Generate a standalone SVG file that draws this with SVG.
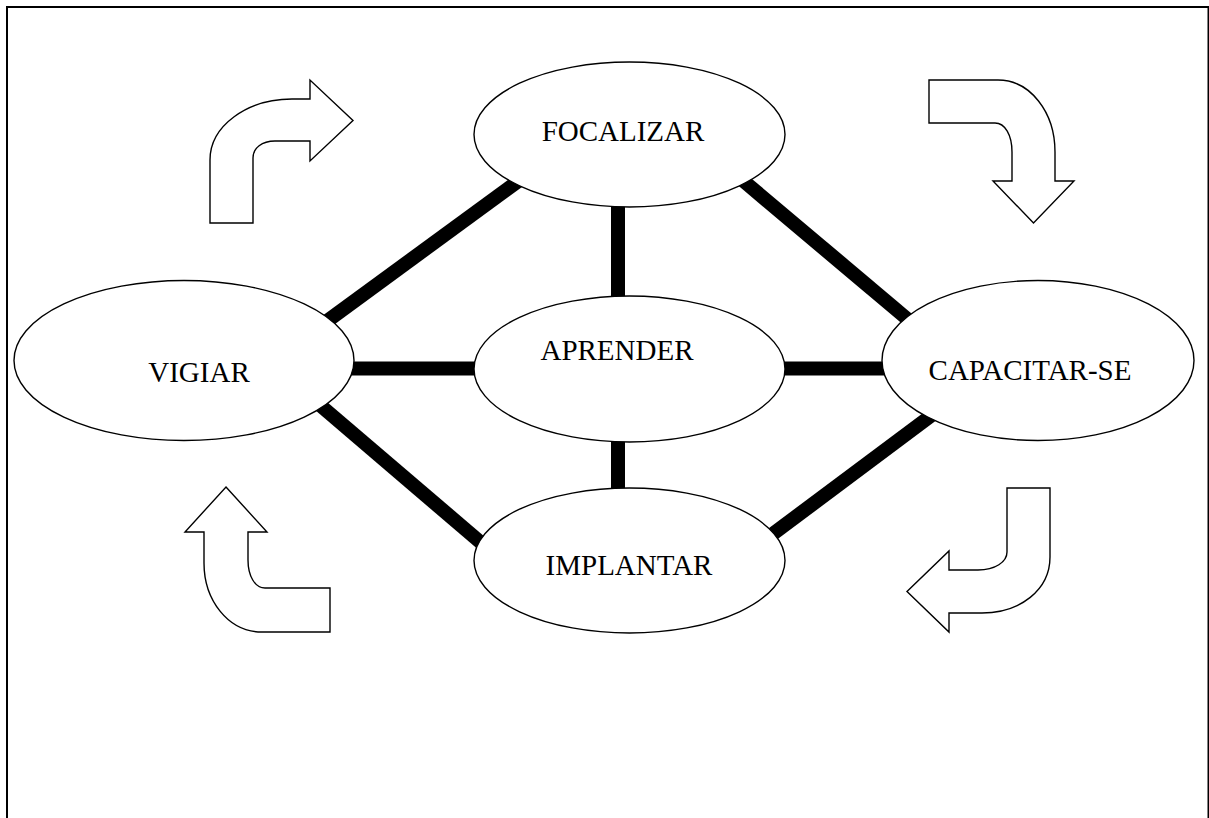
<svg xmlns="http://www.w3.org/2000/svg" width="1209" height="818" viewBox="0 0 1209 818">
  <style>
    .frame { fill: none; stroke: #000; stroke-width: 2; }
    .node { fill: #fff; stroke: #000; stroke-width: 1.4; }
    .label { font-family: "Liberation Serif", "Times New Roman", serif; font-size: 29px; fill: #000; text-anchor: middle; }
    .link { stroke: #000; stroke-width: 14; stroke-linecap: butt; fill: none; }
    .turn { fill: #fff; stroke: #000; stroke-width: 1.4; stroke-linejoin: miter; }
  </style>

  <rect width="1209" height="818" fill="#fff"/>
  <rect class="frame" x="7" y="7" width="1201.5" height="830"/>

  <!-- thick links between the stages; ends run under the ellipses -->
  <g id="connectors">
    <line class="link" x1="319" y1="327" x2="521" y2="179"/>
    <line class="link" x1="740" y1="178" x2="918" y2="328"/>
    <line class="link" x1="618" y1="190" x2="618" y2="310"/>
    <line class="link" x1="340" y1="368.5" x2="490" y2="368.5"/>
    <line class="link" x1="770" y1="368.5" x2="900" y2="368.5"/>
    <line class="link" x1="618" y1="430" x2="618" y2="500"/>
    <line class="link" x1="307" y1="394" x2="500" y2="559"/>
    <line class="link" x1="944" y1="406" x2="754" y2="548"/>
  </g>

  <g id="focalizar">
    <ellipse class="node" cx="629.5" cy="134.5" rx="155.5" ry="72.5"/>
    <text class="label" x="623" y="141">FOCALIZAR</text>
  </g>
  <g id="vigiar">
    <ellipse class="node" cx="184" cy="360.5" rx="170" ry="80"/>
    <text class="label" x="199" y="382">VIGIAR</text>
  </g>
  <g id="aprender">
    <ellipse class="node" cx="629.5" cy="369" rx="155.5" ry="73"/>
    <text class="label" x="617" y="360">APRENDER</text>
  </g>
  <g id="capacitar-se">
    <ellipse class="node" cx="1038" cy="360.5" rx="156" ry="80"/>
    <text class="label" x="1030" y="380">CAPACITAR-SE</text>
  </g>
  <g id="implantar">
    <ellipse class="node" cx="629.5" cy="560.5" rx="155.5" ry="72.5"/>
    <text class="label" x="629" y="575">IMPLANTAR</text>
  </g>

  <!-- curved block arrows showing the cycle direction -->
  <g id="arrow-top-left">
    <path class="turn" d="M210,223 L210,160 C210,126 247,99 292,99 L310,99 L310,80 L353,120.5 L310,161 L310,141 L275,141 C262,141 253,148 253,158 L253,223 Z"/>
  </g>
  <g id="arrow-top-right">
    <path class="turn" d="M929,80 L998,80 C1030,80 1055,112 1055,152 L1055,181 L1074,181 L1033.5,223 L993,181 L1012,181 L1012,152 C1012,135 1005,123 995,123 L929,123 Z"/>
  </g>
  <g id="arrow-bottom-right">
    <path class="turn" d="M1007,488 L1050,488 L1050,557 C1050,590 1020,613 982,613 L949,613 L949,632 L907,591.5 L949,551 L949,570 L978,570 C995,570 1007,562 1007,552 Z"/>
  </g>
  <g id="arrow-bottom-left">
    <path class="turn" d="M226,487 L267,532 L248,532 L248,560 C248,576 255,588 265,588 L330,588 L330,632 L262,632 C228,632 204,600 204,563 L204,532 L185,532 Z"/>
  </g>
</svg>
